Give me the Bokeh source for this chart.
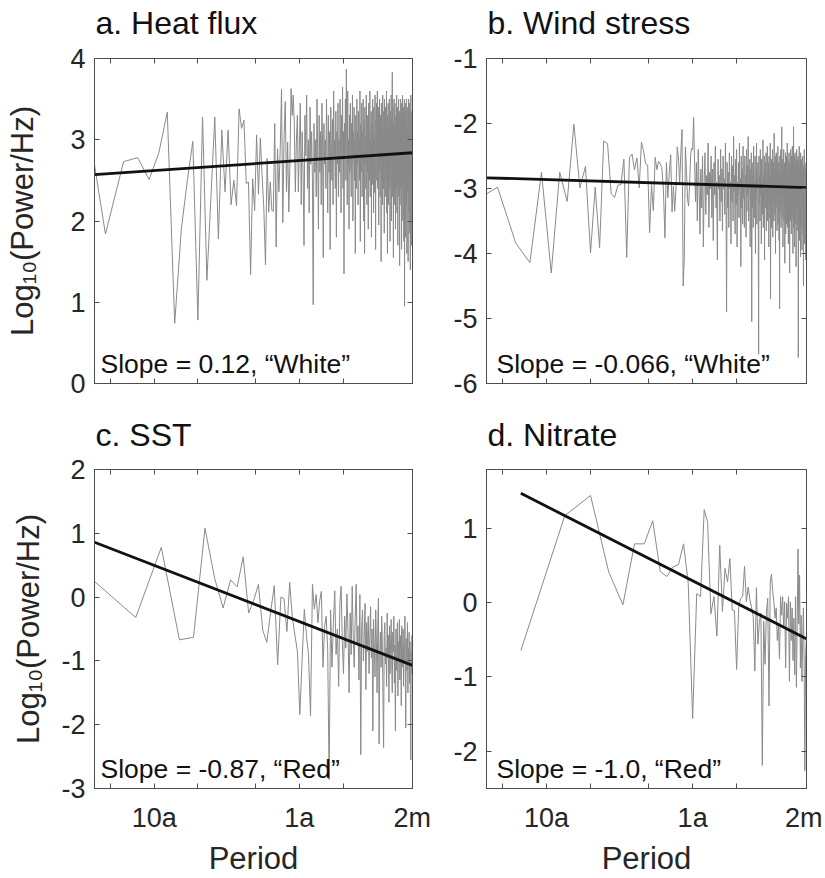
import numpy as np
from bokeh.plotting import figure
from bokeh.layouts import gridplot
from bokeh.models import Range1d, FixedTicker, LogAxis, LinearAxis, Label
from bokeh.embed import file_html
from bokeh.resources import INLINE

FONT = "Liberation Sans"
TXT = "#262626"
AX = "#4d4d4d"
GRAY = "#8a8a8a"

# ---------------- data ----------------
x_min, x_max = 0.0388, 6.02                      # cycles per year
xtick_freq = [0.05, 0.1, 0.2, 0.5, 1.0, 2.0, 6.0]
xtick_text = ["", "10a", "", "", "1a", "", "2m"]

titles = ["a. Heat flux", "b. Wind stress", "c. SST", "d. Nitrate"]
slope_text = ["Slope = 0.12, \u201cWhite\u201d", "Slope = -0.066, \u201cWhite\u201d",
              "Slope = -0.87, \u201cRed\u201d", "Slope = -1.0, \u201cRed\u201d"]
ylabel = "Log\u2081\u2080(Power/Hz)"
xlabel = "Period"

record_years = [65.0, 65.0, 26.8, 15.0]   # spectral resolution = 1/record
first_harmonic = [2, 2, 1, 1]

ylims = [(0, 4), (-6, -1), (-3, 2), (-2.5, 1.79)]
yticks = [[0, 1, 2, 3, 4], [-6, -5, -4, -3, -2, -1], [-3, -2, -1, 0, 1, 2], [-2, -1, 0, 1]]

# log10 power at harmonics k = first_harmonic, first_harmonic+1, ...
heat_flux = [
    3.83, 1.84, 2.73, 2.78, 2.51, 2.84, 3.34, 0.74, 1.9, 2.5,
    2.98, 0.78, 3.28, 1.27, 2.3, 3.28, 1.78, 3.12, 2.36, 3.12,
    2.2, 2.5, 2.19, 3.38, 3.14, 3.24, 2.46, 2.48, 1.34, 2.52,
    2.13, 3.06, 2.33, 3.02, 2.56, 2.16, 1.46, 2.77, 2.11, 2.48,
    2.13, 2.12, 3.2, 1.68, 2.89, 2.36, 2.89, 3.62, 1.98, 3.02,
    3.47, 2.36, 2.97, 2.11, 2.72, 3.63, 3.3, 3.55, 3.2, 2.36,
    2.97, 3.3, 2.36,
    2.9, 3.45, 2.2, 3.1, 2.6, 1.7, 3.3, 2.8, 3.55, 2.4, 3.0, 2.1, 3.4, 2.7, 3.1, 2.5, 0.97, 3.2, 2.6, 3.0,
    2.3, 3.5, 2.8, 1.9, 3.3, 2.6, 3.1, 2.2, 3.45, 2.9, 1.55, 3.2, 2.7, 3.0, 2.4, 3.5, 2.8, 2.1, 3.3, 2.6,
    3.1, 1.65, 3.4, 2.9, 2.5, 3.25, 2.2, 3.6, 2.8, 3.0, 2.4, 3.35, 1.8, 3.1, 2.7, 3.45, 2.3, 3.0, 2.6, 3.5,
    2.9, 2.1, 3.3, 2.75, 3.65, 2.4, 3.1, 1.35, 3.2, 2.8, 3.5, 2.5, 3.87, 2.9, 2.2, 3.6, 2.7, 3.0, 1.9, 3.3,
    2.6, 3.45, 2.95, 2.3, 3.2, 2.7, 3.55, 2.0, 3.1, 2.8, 3.4, 2.5, 3.0, 1.6, 3.3, 2.9, 2.4, 3.5, 2.7, 3.1,
    2.2, 3.35, 2.8, 3.0, 2.5, 3.6, 1.75, 3.2, 2.9, 2.6, 3.45, 2.3, 3.1, 2.75, 3.5, 2.0, 3.25, 2.8, 1.6, 3.4,
    2.7, 3.05, 2.4, 3.55, 2.9, 2.2, 3.3, 2.6, 3.0, 1.9, 3.45, 2.8, 3.15, 2.5, 3.6, 2.3, 3.0, 2.7, 3.35, 1.8,
    3.2, 2.9, 2.45, 3.5, 2.6, 3.1, 2.1, 3.4, 2.8, 3.0, 2.35, 3.55, 2.7, 1.65, 3.25, 2.9, 3.45, 2.5, 3.1, 3.6,
    2.4, 3.0, 2.75, 3.4, 1.95, 3.2, 2.6, 3.5, 2.85, 2.3, 3.3, 2.7, 3.05, 1.5, 3.45, 2.9, 2.5, 3.2, 2.2, 3.55,
    2.8, 3.0, 2.4, 3.35, 2.65, 1.85, 3.5, 2.9, 3.1, 2.3, 3.4, 2.7, 3.0, 2.5, 3.6, 2.1, 3.2, 2.85, 1.6, 3.3,
    2.6, 3.45, 2.9, 2.2, 3.1, 2.75, 3.5, 2.4, 3.0, 1.75, 3.35, 2.8, 3.15, 2.5, 3.55, 2.0, 3.25, 2.7, 3.0, 3.83,
    2.3, 3.4, 2.9, 2.6, 1.55, 3.2, 2.8, 3.5, 2.45, 3.05, 2.2, 3.45, 2.75, 3.1, 1.9, 3.3, 2.6, 3.0, 2.4, 3.55,
    2.85, 2.1, 3.25, 2.7, 3.4, 1.7, 3.1, 2.9, 2.5, 3.5, 2.3, 3.0, 2.8, 3.35, 1.45, 3.2, 2.6, 3.05, 2.4, 3.5,
    2.75, 2.2, 3.3, 2.9, 1.65, 3.45, 2.6, 3.1, 2.4, 3.55, 2.8, 2.0, 3.2, 2.7, 3.4, 2.3, 1.75, 3.0, 2.85, 3.5,
    0.95, 3.1, 2.6, 3.35, 2.4, 2.9, 1.8, 3.45, 2.7, 3.05, 2.2, 3.5, 2.8, 1.6, 3.2, 2.5, 3.0, 2.35, 3.4, 2.9,
    1.5, 3.15, 2.6, 3.5, 2.8, 2.1, 3.3, 2.7, 1.85, 3.45, 2.45, 3.0, 2.9, 1.4, 3.25, 2.6, 3.55, 2.3, 3.1, 2.75,
    1.7, 3.35, 2.5, 3.0, 2.8, 2.4,
]

wind_stress = [
    -3.22, -2.98, -3.84, -4.14, -2.75, -4.3, -2.75, -3.2, -2.01, -2.99,
    -2.66, -3.99, -2.98, -3.91, -2.27, -2.31, -3.08, -3.14, -2.95, -2.94,
    -2.55, -4.06, -2.52, -2.47, -2.71, -2.53, -2.99, -2.29, -2.42, -2.62,
    -2.64, -3.68, -2.94, -3.34, -2.52, -2.71, -2.58, -2.62, -2.68, -3.01,
    -3.76, -2.6, -3.14, -2.76, -2.48, -3.36, -2.96, -3.35, -3.01, -2.36,
    -2.53, -2.94, -2.44, -2.09, -4.5, -4.07, -2.36, -2.73, -3.17, -3.27,
    -2.94, -2.48, -2.38, -2.4, -1.91, -2.58,
    -3.2, -2.6, -3.5, -2.4, -3.0, -3.7, -2.7, -3.3, -2.5, -3.9, -2.9, -2.45, -3.4, -2.8, -3.1, -2.3, -3.6, -2.75, -3.0, -2.5,
    -3.45, -2.7, -3.8, -2.6, -3.1, -2.35, -3.3, -2.9, -4.1, -2.55, -3.0, -2.8, -3.5, -2.4, -3.2, -2.7, -3.65, -2.5, -3.0, -2.85,
    -3.4, -2.3, -3.1, -4.9, -2.6, -3.3, -2.75, -3.6, -2.45, -3.0, -2.9, -3.85, -2.5, -3.2, -2.65, -3.5, -2.2, -3.05, -2.8, -3.7,
    -2.55, -3.25, -2.4, -3.9, -2.9, -3.1, -2.6, -3.45, -2.3, -3.0, -2.85, -4.2, -2.5, -3.3, -2.7, -3.55, -2.35, -3.15, -2.95, -3.6,
    -2.5, -3.0, -2.8, -3.75, -2.4, -3.35, -2.65, -3.1, -2.2, -3.5, -2.9, -3.0, -2.55, -3.9, -2.7, -3.2, -2.45, -5.05, -2.8, -3.3,
    -2.6, -3.6, -2.35, -3.05, -2.9, -3.45, -2.5, -4.0, -2.75, -3.15, -2.3, -3.55, -2.85, -3.0, -2.6, -3.7, -5.55, -2.5, -3.25, -2.8,
    -3.5, -2.4, -3.1, -2.7, -3.85, -2.55, -3.0, -2.9, -3.4, -2.25, -3.6, -2.8, -3.15, -2.5, -4.1, -2.7, -3.3, -2.6, -3.0, -2.45,
    -3.65, -2.85, -3.2, -2.35, -3.5, -2.75, -3.05, -2.6, -3.9, -2.5, -3.25, -2.9, -3.45, -2.3, -4.7, -2.8, -3.1, -2.55, -3.6, -2.7,
    -3.0, -2.4, -3.75, -2.85, -3.2, -2.6, -3.5, -2.15, -3.05, -2.9, -3.4, -2.5, -4.0, -2.7, -3.3, -2.45, -3.1, -2.8, -3.65, -2.55,
    -3.2, -2.35, -3.55, -2.9, -3.0, -2.6, -3.8, -2.75, -4.85, -2.5, -3.35, -2.8, -3.15, -2.4, -3.6, -2.7, -3.0, -2.05, -3.45, -2.85,
    -3.25, -2.55, -3.9, -2.7, -3.1, -2.4, -3.5, -2.9, -3.0, -2.6, -4.15, -2.8, -3.3, -2.45, -3.7, -2.75, -3.05, -2.5, -3.55, -2.9,
    -3.2, -2.3, -3.6, -2.8, -3.0, -2.55, -3.85, -2.7, -3.35, -2.45, -3.1, -2.9, -4.3, -2.6, -3.25, -2.75, -3.5, -2.4, -3.0, -2.85,
    -3.7, -2.5, -3.15, -2.95, -3.45, -2.35, -3.05, -2.8, -4.0, -2.6, -3.3, -2.05, -3.6, -2.75, -3.1, -2.5, -3.9, -2.85, -3.2, -2.45,
    -3.55, -2.7, -3.0, -2.6, -4.2, -2.8, -3.35, -2.4, -3.1, -2.9, -3.65, -2.55, -3.25, -2.75, -3.0, -2.5, -5.6, -2.85, -3.4, -2.65,
    -3.15, -2.35, -3.8, -2.7, -3.05, -2.6, -3.5, -2.9, -4.05, -2.45, -3.2, -2.8, -3.6, -2.55, -3.1, -2.75, -3.95, -2.6, -3.3, -2.85,
    -3.0, -2.5, -3.7, -2.8, -3.25, -4.5, -2.65, -3.45, -2.9, -3.1, -2.4, -3.85, -2.75, -3.2, -2.6, -3.55, -2.85, -3.0, -4.1, -2.7,
    -3.3, -2.9, -3.15,
]

sst = [
    0.28, -0.32, 0.78, -0.67, -0.63, 1.08, 0.29, -0.17, 0.27, 0.16,
    0.63, -0.25, -0.05, 0.2, -0.52, -0.71, -0.23, 0.18, -1.06, 0.0,
    -0.02, -0.54, 0.23, -0.33, -0.6, -0.85, -1.84, -1.0, -0.19, -0.6,
    -0.9, -1.86, 0.2, -0.19, 0.04, -0.4, -0.06, 0.09, -1.1, -0.46,
    -0.3, -0.8, -2.86,
    -0.2, -1.1, -0.4, 0.1, -0.9, -0.5, -1.4, -0.1, 0.17, -0.7, -1.2, -0.3, -0.8, 0.05, -0.55, -1.5, -0.25, -0.9, 0.17, -0.6,
    -1.1, -0.35, 0.2, -0.75, -0.45, -1.3, 0.04, -2.47, -0.5, -0.2, -1.0, -0.65, -0.1, -1.45, -0.4, -0.85, -0.3, -1.2, -0.6, -0.15,
    -0.95, -0.5, -2.1, -0.35, -0.8, -1.25, -0.2, -0.7, -1.5, -0.45, -0.02, -2.3, -0.9, -0.55, -1.1, -0.3, -0.75, -1.6, -2.36, -0.6,
    -0.4, -1.05, -0.8, -1.4, -0.25, -0.95, -0.6, -1.65, -0.45, -1.2, -0.7, -0.35, -1.0, -1.5, -0.55, -0.85, -0.3, -1.35, -0.75, -2.1,
    -0.5, -1.15, -0.9, -0.4, -1.55, -0.7, -1.0, -0.35, -1.3, -0.8, -0.6, -1.7, -0.45, -1.1, -0.85, -0.5, -1.4, -0.75, -1.0, -0.3,
    -1.25, -2.05, -0.65, -1.15, -0.9, -0.4, -1.5, -0.8, -1.05, -0.55, -1.35, -0.7, -1.6, -2.55, -0.85, -1.2, -0.6, -1.0,
]

nitrate = [
    -0.645, 1.17, 1.44, 0.41, -0.03, 0.79, 0.79, 1.1, 0.42, 0.35,
    0.48, 0.51, 0.79, 0.26, -1.56, 0.12, 0.08, 1.25, 1.08, -0.15,
    0.08, -0.45, 0.77, -0.12, 0.46, 0.28, 0.59, -0.1, -0.11, -0.9,
    -0.07, 0.06, 0.08, 0.49, 0.01, 0.21, 0.04, -0.07, -0.19, -0.92,
    0.2, -0.56, -0.25, -0.14, -2.19, -0.25, -0.83, -0.12, 0.06, -1.39,
    0.28, 0.38, 0.15, 0.01, -0.21, -0.07, -0.51, -0.29, -0.76, 0.08,
    -0.17, 0.08, -0.34, 0.01, -0.88, -0.01, -0.21, 0.08, -1.06, 0.01,
    -0.51, -0.07, -0.78, -0.21, -0.97, 0.08, -1.14, -0.29, 0.72, -0.29,
    0.37, -0.88, -0.17, -1.06, -0.51, -0.07, -0.78, -2.26, -0.7, -0.5,
]

series = [heat_flux, wind_stress, sst, nitrate]

# least-squares fit lines (end points)
fit_x = [[0.0388, 6.02], [0.0388, 6.02], [0.0388, 6.02], [1 / 15, 6.0]]
fit_y = [[2.57, 2.84], [-2.835, -2.985], [0.86, -1.07], [1.47, -0.485]]

# ---------------- layout ----------------
fig_w = [438, 384]
fig_h = [403, 475]
b_left = [94, 48]
b_right = [26, 16]
b_top = [58, 66]
b_bottom = [20, 87]
title_lift = [17, 16]
ylab_standoff = [27, 12]


def style_axis(ax, ticks, labels, show, standoff):
    ax.ticker = FixedTicker(ticks=ticks)
    ax.major_label_overrides = {float(t): s for t, s in zip(ticks, labels)}
    ax.major_tick_in = 5
    ax.major_tick_out = 0
    ax.minor_tick_in = 0
    ax.minor_tick_out = 0
    ax.axis_line_color = AX
    ax.axis_line_width = 1
    ax.major_tick_line_color = AX
    ax.major_tick_line_width = 1
    ax.major_label_text_font = FONT
    ax.major_label_text_color = TXT
    ax.major_label_standoff = standoff
    if show:
        ax.major_label_text_font_size = "27px"
    else:
        ax.major_label_text_font_size = "1px"
        ax.major_label_text_alpha = 0


def build(i, row, col):
    p = figure(width=fig_w[col], height=fig_h[row], x_axis_type="log",
               x_range=Range1d(x_min, x_max), y_range=Range1d(*ylims[i]),
               output_backend="svg", toolbar_location=None, title=titles[i],
               min_border_left=b_left[col], min_border_right=b_right[col],
               min_border_top=b_top[row], min_border_bottom=b_bottom[row])
    p.title.align = "left"
    p.title.offset = 1
    p.title.standoff = 2
    p.title.text_font = FONT
    p.title.text_font_size = "32px"
    p.title.text_font_style = "normal"
    p.title.text_color = "#111111"
    try:
        p.title.padding = dict(left=0, right=0, top=0, bottom=title_lift[row])
    except Exception:
        pass

    p.xgrid.visible = False
    p.ygrid.visible = False
    p.outline_line_color = AX
    p.outline_line_width = 1
    p.background_fill_color = "white"
    p.border_fill_color = "white"

    xt = [float(v) for v in xtick_freq]
    yt = [float(v) for v in yticks[i]]
    ylab = [str(v) for v in yticks[i]]

    bottom_ax = p.below[0]
    left_ax = p.left[0]
    style_axis(bottom_ax, xt, xtick_text, row == 1, 14 if row == 1 else 0)
    style_axis(left_ax, yt, ylab, True, 9)

    top = LogAxis()
    p.add_layout(top, "above")
    style_axis(top, xt, xtick_text, False, 0)
    right = LinearAxis()
    p.add_layout(right, "right")
    style_axis(right, yt, ylab, False, 0)

    if col == 0:
        left_ax.axis_label = ylabel
        left_ax.axis_label_standoff = ylab_standoff[row]
        left_ax.axis_label_text_font = FONT
        left_ax.axis_label_text_font_size = "31px"
        left_ax.axis_label_text_font_style = "normal"
        left_ax.axis_label_text_color = TXT
    if row == 1:
        bottom_ax.axis_label = xlabel
        bottom_ax.axis_label_standoff = 5
        bottom_ax.axis_label_text_font = FONT
        bottom_ax.axis_label_text_font_size = "31px"
        bottom_ax.axis_label_text_font_style = "normal"
        bottom_ax.axis_label_text_color = TXT

    vals = series[i]
    freq = (first_harmonic[i] + np.arange(len(vals))) / record_years[i]
    p.line(freq, vals, line_color=GRAY, line_width=1)
    p.line(fit_x[i], fit_y[i], line_color="#111111", line_width=2.8)

    p.add_layout(Label(x=[6, 10][col], y=5, x_units="screen", y_units="screen",
                       text=slope_text[i], text_font=FONT, text_font_size="26.5px",
                       text_color="#111111", text_baseline="bottom", text_align="left"))
    return p


pa = build(0, 0, 0)
pb = build(1, 0, 1)
pc = build(2, 1, 0)
pd = build(3, 1, 1)

grid = gridplot([[pa, pb], [pc, pd]], toolbar_location=None)

open("out.html", "w").write(file_html(grid, INLINE, title="Spectra"))
